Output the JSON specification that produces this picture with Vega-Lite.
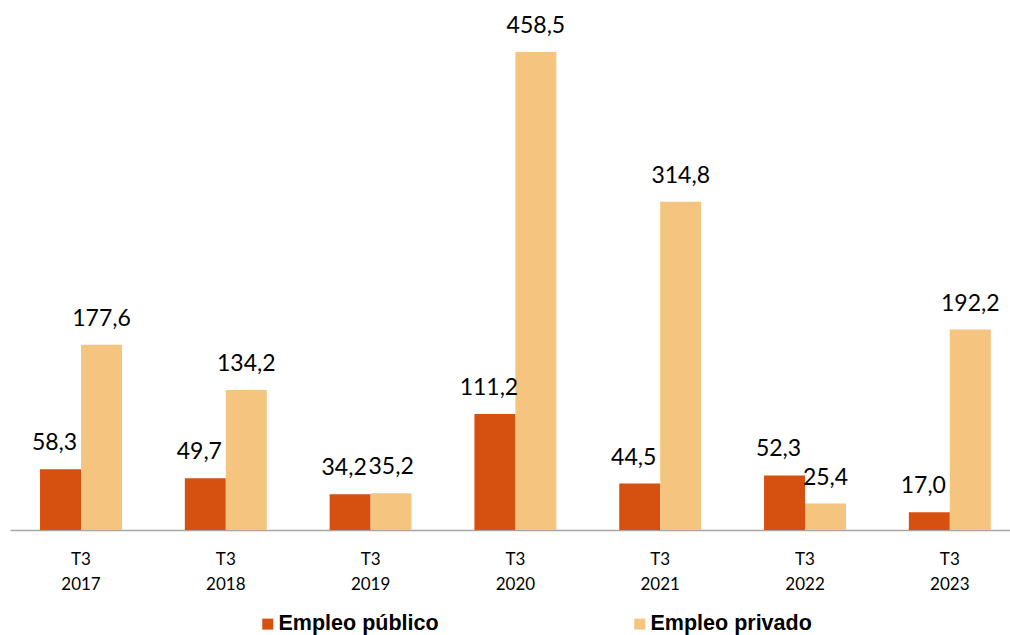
{
  "$schema": "https://vega.github.io/schema/vega-lite/v6.json",
  "width": 1000,
  "height": 530,
  "autosize": "none",
  "padding": {"left": 10, "top": 0, "right": 0, "bottom": 105},
  "background": "white",
  "config": {
    "view": {"stroke": null},
    "locale": {"number": {"decimal": ",", "thousands": ".", "grouping": [3], "currency": ["", " €"]}}
  },
  "data": {
    "values": [
      {"periodo": "2017", "serie": "Empleo público", "valor": 58.3},
      {"periodo": "2017", "serie": "Empleo privado", "valor": 177.6},
      {"periodo": "2018", "serie": "Empleo público", "valor": 49.7},
      {"periodo": "2018", "serie": "Empleo privado", "valor": 134.2},
      {"periodo": "2019", "serie": "Empleo público", "valor": 34.2},
      {"periodo": "2019", "serie": "Empleo privado", "valor": 35.2},
      {"periodo": "2020", "serie": "Empleo público", "valor": 111.2},
      {"periodo": "2020", "serie": "Empleo privado", "valor": 458.5},
      {"periodo": "2021", "serie": "Empleo público", "valor": 44.5},
      {"periodo": "2021", "serie": "Empleo privado", "valor": 314.8},
      {"periodo": "2022", "serie": "Empleo público", "valor": 52.3},
      {"periodo": "2022", "serie": "Empleo privado", "valor": 25.4},
      {"periodo": "2023", "serie": "Empleo público", "valor": 17.0},
      {"periodo": "2023", "serie": "Empleo privado", "valor": 192.2}
    ]
  },
  "encoding": {
    "x": {
      "field": "periodo",
      "type": "nominal",
      "sort": null,
      "scale": {"paddingInner": 0.434, "paddingOuter": 0.17, "align": 0.61},
      "axis": {
        "title": null,
        "labelAngle": 0,
        "labelExpr": "['T3', datum.value]",
        "labelFont": "Lato",
        "labelFontSize": 17,
        "labelLineHeight": 25,
        "labelColor": "#000000",
        "labelPadding": 21,
        "ticks": false,
        "domain": true,
        "domainColor": "#A6A6A6",
        "domainWidth": 1.5,
        "grid": false
      }
    },
    "xOffset": {"field": "serie", "type": "nominal", "sort": ["Empleo público", "Empleo privado"]},
    "y": {
      "field": "valor",
      "type": "quantitative",
      "scale": {"domain": [0, 508.3], "nice": false},
      "axis": null
    }
  },
  "layer": [
    {
      "mark": {"type": "bar"},
      "encoding": {
        "color": {
          "field": "serie",
          "type": "nominal",
          "sort": ["Empleo público", "Empleo privado"],
          "scale": {"domain": ["Empleo público", "Empleo privado"], "range": ["#D6500F", "#F5C47F"]},
          "legend": {
            "title": null,
            "orient": "none",
            "direction": "horizontal",
            "legendX": 247,
            "legendY": 613,
            "symbolType": "square",
            "symbolSize": 121,
            "symbolStrokeWidth": 0,
            "labelFont": "Liberation Sans",
            "labelFontWeight": "bold",
            "labelFontSize": 21.5,
            "labelColor": "#000000",
            "labelOffset": 0,
            "labelLimit": 400,
            "columnPadding": 190
          }
        }
      }
    },
    {
      "transform": [{"filter": "datum.serie === 'Empleo público'"}],
      "mark": {"type": "text", "baseline": "alphabetic", "dy": -19, "dx": -6, "font": "Lato", "fontSize": 23, "color": "#000000"},
      "encoding": {
        "text": {"field": "valor", "type": "quantitative", "format": ".1f"}
      }
    },
    {
      "transform": [{"filter": "datum.serie === 'Empleo privado'"}],
      "mark": {"type": "text", "baseline": "alphabetic", "dy": -19, "font": "Lato", "fontSize": 23, "color": "#000000"},
      "encoding": {
        "text": {"field": "valor", "type": "quantitative", "format": ".1f"}
      }
    }
  ]
}
